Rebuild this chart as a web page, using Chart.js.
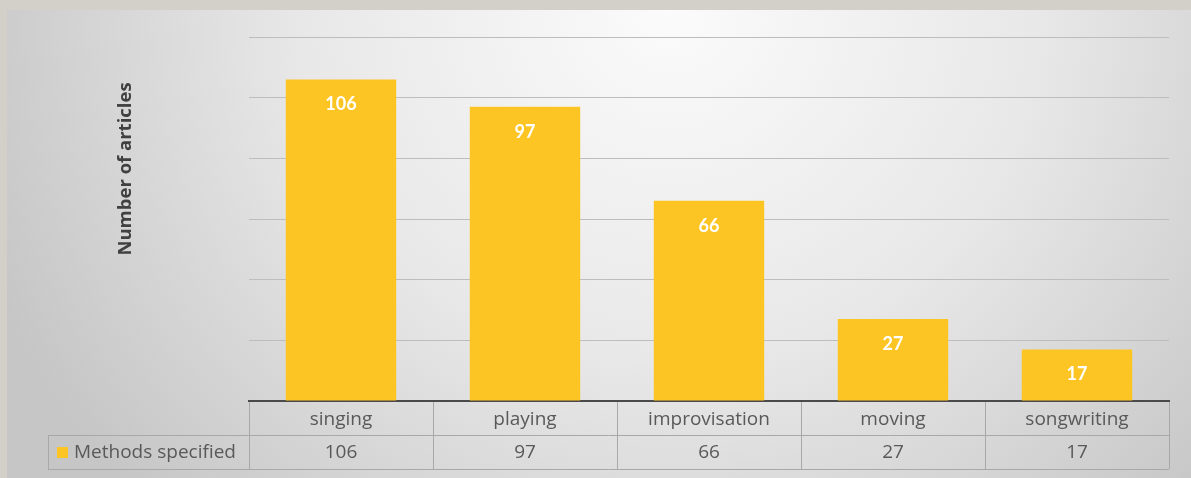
<!DOCTYPE html>
<html>
<head>
<meta charset="utf-8">
<script src="https://cdn.jsdelivr.net/npm/chart.js@4.4.1/dist/chart.umd.min.js"></script>
<style>
    html, body { margin: 0; padding: 0; }
    body { width: 1191px; height: 478px; background: #d3d0ca; position: relative; overflow: hidden; }
    #panel {
        position: absolute; left: 7px; top: 10px; right: 0; bottom: 0;
        background: radial-gradient(ellipse 62% 150% at 56% 0%, #fbfbfb 0%, #e8e8e8 50%, #c6c6c6 100%);
    }
    #wrap { position: absolute; left: 0; top: 0; width: 1191px; height: 478px; }
</style>
</head>
<body>
<div id="panel"></div>
<div id="wrap"><canvas id="methodsChart" width="1191" height="478"></canvas></div>
<script>
// chart data
const categories = ['singing', 'playing', 'improvisation', 'moving', 'songwriting']
const methodsSpecified = [106, 97, 66, 27, 17]
const seriesName = 'Methods specified'
const yTitle = 'Number of articles'

const barColor = '#fdc524'
const textGrey = '#595959'
const lineGrey = '#a8a8a8'
const fontFamily = '"Open Sans", Lato, sans-serif'

// white value labels inside the bars
const barLabels = {
    id: 'barLabels',
    afterDatasetsDraw(chart) {
        const ctx = chart.ctx
        const meta = chart.getDatasetMeta(0)
        ctx.save()
        ctx.fillStyle = '#ffffff'
        ctx.font = 'bold 18px Lato, sans-serif'
        ctx.textAlign = 'center'
        ctx.textBaseline = 'middle'
        meta.data.forEach((bar, i) => {
            ctx.fillText(String(methodsSpecified[i]), bar.x, bar.y + 25)
        })
        ctx.restore()
    }
}

// y title and the data table under the axis
const dataTable = {
    id: 'dataTable',
    afterDraw(chart) {
        const ctx = chart.ctx
        const area = chart.chartArea
        const xs = chart.scales.x
        const half = (xs.getPixelForValue(1) - xs.getPixelForValue(0)) / 2
        const top = area.bottom
        const mid = top + 34
        const bot = mid + 34
        const legendLeft = 48

        ctx.save()
        // y axis title
        ctx.translate(126, 169)
        ctx.rotate(-Math.PI / 2)
        ctx.fillStyle = '#404040'
        ctx.font = 'bold 18.5px ' + fontFamily
        ctx.textAlign = 'center'
        ctx.textBaseline = 'middle'
        ctx.fillText(yTitle, 0, 0)
        ctx.restore()

        ctx.save()
        ctx.strokeStyle = lineGrey
        ctx.lineWidth = 1
        ctx.beginPath()
        for (let i = 0; i <= categories.length; i++) {
            const x = Math.round(xs.getPixelForValue(i) - half) + 0.5
            ctx.moveTo(x, top + 1)
            ctx.lineTo(x, bot)
        }
        ctx.moveTo(legendLeft + 0.5, mid)
        ctx.lineTo(legendLeft + 0.5, bot)
        ctx.moveTo(legendLeft, mid + 0.5)
        ctx.lineTo(area.right, mid + 0.5)
        ctx.moveTo(legendLeft, bot + 0.5)
        ctx.lineTo(area.right, bot + 0.5)
        ctx.stroke()

        ctx.fillStyle = textGrey
        ctx.font = '19px ' + fontFamily
        ctx.textAlign = 'center'
        ctx.textBaseline = 'middle'
        methodsSpecified.forEach((v, i) => {
            ctx.fillText(String(v), xs.getPixelForValue(i), mid + 18)
        })

        // legend key
        ctx.fillStyle = barColor
        ctx.fillRect(legendLeft + 9, mid + 12, 11, 11)
        ctx.fillStyle = textGrey
        ctx.textAlign = 'left'
        ctx.fillText(seriesName, legendLeft + 26, mid + 18)
        ctx.restore()
    }
}

var ctx = document.getElementById('methodsChart').getContext('2d')
var methodsChart = new Chart(ctx, {
    type: 'bar',
    data: {
        labels: categories,
        datasets: [{
            label: seriesName,
            data: methodsSpecified,
            backgroundColor: barColor,
            borderWidth: 0,
            categoryPercentage: 1,
            barPercentage: 0.6,
        }]
    },
    options: {
        responsive: false,
        animation: false,
        devicePixelRatio: 1,
        layout: { padding: { top: 37, right: 22, bottom: 0, left: 0 } },
        plugins: {
            legend: { display: false },
            tooltip: { enabled: false },
        },
        scales: {
            x: {
                grid: { display: false, drawTicks: false },
                border: { display: true, color: '#4a4a4a', width: 2 },
                ticks: { color: textGrey, font: { family: fontFamily, size: 19 }, padding: 7, maxRotation: 0, autoSkip: false },
                afterFit(scale) { scale.height = 77 },
            },
            y: {
                min: 0,
                max: 120,
                ticks: { display: false, stepSize: 20 },
                grid: { color: '#bdbdbd', lineWidth: 1, drawTicks: false },
                border: { display: false },
                afterFit(scale) { scale.width = 249 },
            },
        },
    },
    plugins: [barLabels, dataTable],
})
</script>
</body>
</html>
